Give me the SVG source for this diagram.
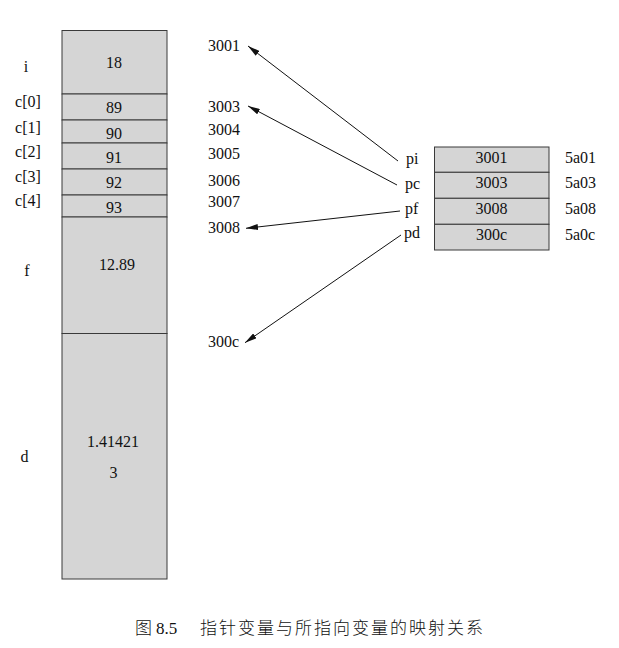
<svg xmlns="http://www.w3.org/2000/svg" width="619" height="648" viewBox="0 0 619 648">
<defs>
<style>
.t{font-family:'Liberation Serif','Times New Roman','DejaVu Serif',serif;font-size:16px;fill:#111}
.m{text-anchor:middle}
.cell{fill:#d5d5d5;stroke:#3a3a3a;stroke-width:1}
.cap{font-family:'Noto Sans CJK SC','Liberation Serif',serif;font-size:17px;font-weight:300;fill:#111}
.ln{stroke:#111;stroke-width:1;fill:none;marker-end:url(#ah)}
</style>
<marker id="ah" viewBox="0 0 12 6" refX="12" refY="3" markerWidth="12" markerHeight="6" markerUnits="userSpaceOnUse" orient="auto">
<path d="M0,0 L12,3 L0,6 Z" fill="#111"/>
</marker>
</defs>
<rect width="619" height="648" fill="#ffffff"/>

<g id="mem-i"><rect class="cell" x="62" y="30.5" width="105" height="63.5"/><text class="t m" x="114" y="68">18</text><text class="t m" x="26" y="72">i</text></g>
<g id="mem-c0"><rect class="cell" x="62" y="94" width="105" height="26"/><text class="t m" x="114" y="113">89</text><text class="t m" x="28" y="107">c[0]</text></g>
<g id="mem-c1"><rect class="cell" x="62" y="120" width="105" height="23"/><text class="t m" x="114" y="139">90</text><text class="t m" x="28" y="133">c[1]</text></g>
<g id="mem-c2"><rect class="cell" x="62" y="143" width="105" height="26"/><text class="t m" x="114" y="162.5">91</text><text class="t m" x="28" y="157">c[2]</text></g>
<g id="mem-c3"><rect class="cell" x="62" y="169" width="105" height="26"/><text class="t m" x="114" y="188">92</text><text class="t m" x="28" y="182">c[3]</text></g>
<g id="mem-c4"><rect class="cell" x="62" y="195" width="105" height="22"/><text class="t m" x="114" y="212.5">93</text><text class="t m" x="28" y="206">c[4]</text></g>
<g id="mem-f"><rect class="cell" x="62" y="217" width="105" height="116.5"/><text class="t m" x="117" y="270">12.89</text><text class="t m" x="27" y="276">f</text></g>
<g id="mem-d"><rect class="cell" x="62" y="333.5" width="105" height="245.5"/><text class="t m" x="113" y="446.5">1.41421</text><text class="t m" x="113.5" y="478">3</text><text class="t m" x="24.5" y="461.5">d</text></g>

<g id="addresses">
<text class="t" x="208" y="51">3001</text>
<text class="t" x="208" y="111.5">3003</text>
<text class="t" x="208" y="135">3004</text>
<text class="t" x="208" y="159">3005</text>
<text class="t" x="208" y="186">3006</text>
<text class="t" x="208" y="206.5">3007</text>
<text class="t" x="208" y="232.5">3008</text>
<text class="t" x="208" y="346.5">300c</text>
</g>

<g id="ptr-pi"><rect class="cell" x="434.5" y="147" width="114.5" height="25.3"/><text class="t m" x="491.5" y="162.7">3001</text><text class="t" x="406" y="164">pi</text><text class="t" x="565" y="162.7">5a01</text></g>
<g id="ptr-pc"><rect class="cell" x="434.5" y="172.3" width="114.5" height="26"/><text class="t m" x="491.5" y="188.3">3003</text><text class="t" x="405" y="189">pc</text><text class="t" x="565" y="188.3">5a03</text></g>
<g id="ptr-pf"><rect class="cell" x="434.5" y="198.3" width="114.5" height="26"/><text class="t m" x="491.5" y="214.3">3008</text><text class="t" x="405" y="214">pf</text><text class="t" x="565" y="214.3">5a08</text></g>
<g id="ptr-pd"><rect class="cell" x="434.5" y="224.3" width="114.5" height="25.7"/><text class="t m" x="491.5" y="240">300c</text><text class="t" x="404" y="238">pd</text><text class="t" x="565" y="240">5a0c</text></g>

<g id="connectors">
<line class="ln" x1="398" y1="161" x2="248" y2="46"/>
<line class="ln" x1="397" y1="185" x2="248" y2="106"/>
<line class="ln" x1="400" y1="211" x2="246" y2="228.3"/>
<line class="ln" x1="401" y1="235" x2="245" y2="342.7"/>
</g>

<g id="caption">
<text class="cap" x="135" y="634">图</text>
<text class="t" x="156" y="634" style="font-size:17px">8.5</text>
<text class="cap" x="200" y="634" textLength="283" lengthAdjust="spacing">指针变量与所指向变量的映射关系</text>
</g>
</svg>
